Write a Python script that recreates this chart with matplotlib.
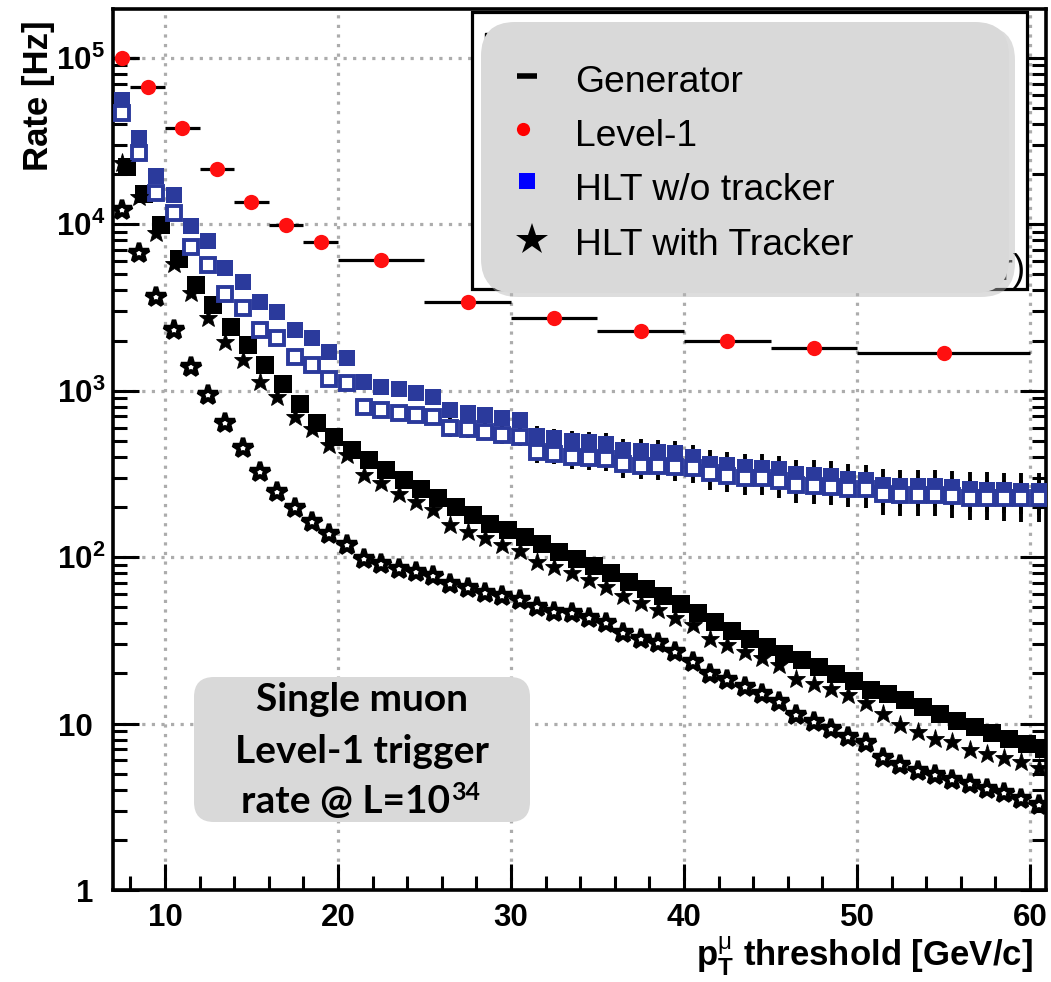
import numpy as np
import matplotlib
matplotlib.use("Agg")
import matplotlib.pyplot as plt
import matplotlib.transforms as mtransforms
from matplotlib import font_manager
from matplotlib.patches import FancyBboxPatch, Rectangle
from matplotlib.lines import Line2D
from matplotlib.ticker import FixedLocator, LogLocator, NullFormatter, MultipleLocator

plt.rcParams['font.family'] = ['Liberation Sans', 'DejaVu Sans']
plt.rcParams['mathtext.fontset'] = 'custom'
plt.rcParams['mathtext.rm'] = 'Liberation Sans'
plt.rcParams['mathtext.bf'] = 'Liberation Sans:bold'
plt.rcParams['mathtext.it'] = 'Liberation Sans:italic'
plt.rcParams['mathtext.sf'] = 'Liberation Sans'

# ---------------- data ----------------
pt_bins = np.arange(7.5, 61.0, 1.0)   # pT threshold bins (GeV/c), 54 bins

generator = [22000, 15200, 9900, 6220, 4300, 3270, 2400, 1880, 1430, 1090,
             830, 635, 524, 438, 382, 333, 290, 256, 225, 200,
             179, 159, 145, 132, 120, 107, 98, 88, 80, 71,
             64, 58, 52, 46, 41, 36, 32, 29, 26, 24,
             21.9, 19.9, 18.0, 16.0, 15.0, 13.8, 12.6, 11.4, 10.4, 9.5,
             8.8, 8.1, 7.5, 7.0]

hlt_notrk_filled = [55700, 32800, 19500, 14960, 9750, 7910, 5470, 4510, 3420, 2980,
                    2310, 2060, 1710, 1580, 1130, 1050, 1017, 970, 918, 764,
                    730, 713, 685, 665, 537, 516, 498, 493, 481, 439,
                    435, 429, 423, 400, 365, 356, 348, 345, 336, 315,
                    312, 308, 294, 290, 272, 268, 268, 266, 262, 256,
                    254, 252, 251, 250]

hlt_notrk_open = [46800, 26900, 15400, 11600, 7260, 5680, 3800, 3150, 2330, 2060,
                  1595, 1420, 1183, 1105, 800, 764, 736, 713, 690, 593,
                  585, 565, 545, 530, 426, 419, 400, 395, 386, 362,
                  355, 351, 348, 341, 318, 306, 297, 297, 285, 270,
                  267, 264, 258, 255, 239, 236, 236, 235, 232, 228,
                  228, 227, 226, 225]

hlt_notrk_relerr = [0.03, 0.03, 0.03, 0.03, 0.03, 0.04, 0.04, 0.04, 0.05, 0.05,
                    0.05, 0.05, 0.06, 0.06, 0.08, 0.08, 0.08, 0.09, 0.09, 0.11,
                    0.11, 0.11, 0.12, 0.12, 0.14, 0.14, 0.15, 0.15, 0.15, 0.17,
                    0.17, 0.17, 0.18, 0.18, 0.20, 0.20, 0.20, 0.21, 0.21, 0.22,
                    0.22, 0.22, 0.23, 0.23, 0.25, 0.25, 0.25, 0.25, 0.26, 0.27,
                    0.27, 0.27, 0.28, 0.28]

hlt_trk_filled = [23300, 14600, 8800, 5800, 3840, 2720, 1960, 1520, 1130, 918,
                  697, 585, 470, 409, 311, 277, 241, 215, 191, 156,
                  142, 131, 118, 109, 94, 87, 80, 73, 66, 58,
                  53, 48, 43, 39, 32.4, 29.6, 26.9, 24.6, 22.4, 18.6,
                  17.4, 16.2, 14.8, 13.3, 11.4, 9.8, 8.9, 8.1, 7.8, 6.9,
                  6.6, 6.2, 5.9, 5.4]

hlt_trk_open = [12200, 6680, 3660, 2310, 1390, 940, 636, 450, 325, 247,
                196, 163, 137, 118, 98, 91, 85, 81.5, 77, 69,
                65, 61, 58, 55, 50, 47, 46, 43, 40, 35,
                32.4, 30.3, 26.9, 23.4, 19.9, 18.2, 16.6, 15.1, 13.4, 11.2,
                10.2, 9.3, 8.3, 7.6, 6.2, 5.6, 5.2, 4.9, 4.6, 4.36,
                4.07, 3.8, 3.54, 3.23]

l1_pt = [7.5, 9, 11, 13, 15, 17, 19, 22.5, 27.5, 32.5, 37.5, 42.5, 47.5, 55]
l1_halfwidth = [1, 1, 1, 1, 1, 1, 1, 2.5, 2.5, 2.5, 2.5, 2.5, 2.5, 5]
l1_rate = [100000, 66400, 37900, 21600, 13600, 9900, 7780, 6080, 3420, 2720,
           2280, 1990, 1806, 1690]

x_ticks = [10, 20, 30, 40, 50, 60]
y_ticks = [1, 10, 1e2, 1e3, 1e4, 1e5]
y_ticklabels = ['1', '10', r'$\mathbf{10^{2}}$', r'$\mathbf{10^{3}}$',
                r'$\mathbf{10^{4}}$', r'$\mathbf{10^{5}}$']

legend_labels = ['Generator', 'Level-1', 'HLT w/o tracker', 'HLT with Tracker']
box_lines = ['Single muon', 'Level-1 trigger', 'rate @ L=10']
box_sup = '34'

# ---------------- figure ----------------
W, H, DPI = 1051, 982, 100
fig = plt.figure(figsize=(W / DPI, H / DPI), dpi=DPI)
ax = fig.add_axes([113 / W, 1 - 890 / H, (1046 - 113) / W, (890 - 8.5) / H])

BLUE = '#2b3a9c'
ax.set_yscale('log')
ax.set_xlim(7, 60.92)
ax.set_ylim(1, 10 ** 5.296)

# L1 horizontal bin bars and dots
ax.errorbar(l1_pt, l1_rate, xerr=l1_halfwidth, fmt='none', ecolor='black',
            elinewidth=2.3, capsize=0, zorder=2)
# generator
ax.plot(pt_bins + 0.3, generator, ls='none', marker='s', ms=12.6, mfc='black',
        mec='black', mew=0, zorder=3)
# HLT w/o tracker: error bars, filled and open squares
ax.errorbar(pt_bins, hlt_notrk_filled,
            yerr=np.array(hlt_notrk_filled) * np.array(hlt_notrk_relerr),
            fmt='none', ecolor='black', elinewidth=2.8, capsize=0, zorder=3.1)
ax.errorbar(pt_bins, hlt_notrk_open,
            yerr=np.array(hlt_notrk_open) * np.array(hlt_notrk_relerr),
            fmt='none', ecolor='black', elinewidth=2.8, capsize=0, zorder=3.1)
ax.plot(pt_bins, hlt_notrk_filled, ls='none', marker='s', ms=11.8, mfc=BLUE,
        mec=BLUE, mew=0, zorder=3.2)
ax.plot(pt_bins, hlt_notrk_open, ls='none', marker='s', ms=10.6, mfc='white',
        mec=BLUE, mew=2.8, zorder=3.4)
# HLT with tracker
ax.plot(pt_bins, hlt_trk_filled, ls='none', marker='*', ms=14, mfc='black',
        mec='black', mew=0.6, zorder=3.8)
ax.plot(pt_bins, hlt_trk_open, ls='none', marker='*', ms=14.5, mfc='white',
        mec='black', mew=3.2, zorder=4)
# L1 dots
ax.plot(l1_pt, l1_rate, ls='none', marker='o', ms=11, mfc='#ff1010',
        mec='#ff1010', mew=0, zorder=4.2)

# grid / ticks
ax.set_axisbelow(True)
ax.xaxis.set_major_locator(FixedLocator(x_ticks))
ax.xaxis.set_minor_locator(MultipleLocator(2))
ax.yaxis.set_major_locator(FixedLocator(y_ticks))
ax.yaxis.set_minor_locator(LogLocator(base=10, subs=np.arange(2, 10), numticks=30))
ax.yaxis.set_minor_formatter(NullFormatter())
ax.grid(True, which='major', color='#acacac', linestyle=(0, (1.0, 2.0)), linewidth=2.3)
ax.tick_params(which='major', direction='in', length=19, width=2.2,
               right=True, top=False, labelleft=False, labelsize=22.5, pad=9)
ax.tick_params(which='minor', direction='in', length=10, width=2.2,
               right=True, top=False)
ax.set_xticklabels([str(v) for v in x_ticks], fontsize=22.5, fontweight='bold')
for s in ax.spines.values():
    s.set_linewidth(2.6)

# y tick labels (manual so the exponent labels align like the original)
ytrans = mtransforms.blended_transform_factory(fig.transFigure, ax.transData)
for v, lab in zip(y_ticks, y_ticklabels):
    xr = 105 / W if '^' in lab else 93 / W
    tr = mtransforms.offset_copy(ytrans, fig=fig, x=0, y=-12, units='dots')
    fig.text(xr, v, lab, transform=tr, ha='right', va='baseline',
             fontsize=22.5, fontweight='bold')

# axis titles
fig.text(38.5 / W, 1 - 20 / H, 'Rate [Hz]', rotation=90, ha='center', va='top',
         fontsize=25, fontweight='bold')
fig.text(1033 / W, 1 - 966 / H,
         r'$\mathbf{p}_{\mathbf{T}}^{\mathrm{\mu}}$ threshold [GeV/c]',
         ha='right', va='baseline', fontsize=25, fontweight='bold')

# ---------------- legend (pixel coordinates) ----------------
T = mtransforms.IdentityTransform()
def P(x, y):
    return (x, H - y)

try:
    font_manager.findfont(font_manager.FontProperties(family='Liberation Sans Narrow'),
                          fallback_to_default=False)
    NARROW, LEGSIZE = ['Liberation Sans Narrow', 'DejaVu Sans'], 31
except Exception:
    NARROW, LEGSIZE = ['Liberation Sans', 'DejaVu Sans'], 26.8

frame = Rectangle(P(472, 289), 1027 - 472, 289 - 12, transform=T, fc='white',
                  ec='black', lw=2.3, zorder=5)
fig.add_artist(frame)
fig.add_artist(Line2D([491], [H - 39], marker='s', ms=8, mfc='black', mec='black',
                      transform=T, zorder=5.2))
fig.text(1025, H - 280, 'tracker)', transform=T, ha='right', va='baseline',
         fontsize=LEGSIZE, family=NARROW, zorder=5.2)
shadow = FancyBboxPatch(P(484, 297), 1012 - 481, 293 - 22,
                        boxstyle='round,pad=0,rounding_size=34', transform=T,
                        fc='#b5b5b5', ec='none', alpha=0.45, zorder=5.4)
fig.add_artist(shadow)
gbox = FancyBboxPatch(P(481, 293), 1009 - 481, 293 - 22,
                      boxstyle='round,pad=0,rounding_size=34', transform=T,
                      fc='#d9d9d9', ec='none', zorder=5.5)
fig.add_artist(gbox)

leg_baselines = [92, 146, 200, 255]
leg_centers = [76, 129, 181, 240]
for lab, yb in zip(legend_labels, leg_baselines):
    fig.text(575, H - yb, lab, transform=T, ha='left', va='baseline',
             fontsize=LEGSIZE, family=NARROW, zorder=6)
fig.add_artist(Line2D([527], [H - leg_centers[0]], marker='_', ms=15, mew=4,
                      color='black', transform=T, zorder=6))
fig.add_artist(Line2D([523], [H - leg_centers[1]], marker='o', ms=9.5, mew=0,
                      mfc='#ff0000', transform=T, zorder=6))
fig.add_artist(Line2D([527], [H - leg_centers[2]], marker='s', ms=11.5, mew=0,
                      mfc='#0000ff', transform=T, zorder=6))
fig.add_artist(Line2D([532], [H - leg_centers[3]], marker='*', ms=24, mew=0,
                      mfc='black', transform=T, zorder=6))

# ---------------- text box ----------------
tbox = FancyBboxPatch(P(194, 822), 530 - 194, 822 - 677,
                      boxstyle='round,pad=0,rounding_size=20', transform=T,
                      fc='#d9d9d9', ec='none', zorder=5.5)
fig.add_artist(tbox)
BOXFONT = ['Lato', 'DejaVu Sans']
fig.text(362, H - 711, box_lines[0], transform=T, ha='center', va='baseline',
         fontsize=28, fontweight='bold', family=BOXFONT, zorder=6)
fig.text(362, H - 763, box_lines[1], transform=T, ha='center', va='baseline',
         fontsize=28, fontweight='bold', family=BOXFONT, zorder=6)
t3 = fig.text(346, H - 813, box_lines[2], transform=T, ha='center', va='baseline',
              fontsize=28, fontweight='bold', family=BOXFONT, zorder=6)
fig.canvas.draw()
bb = t3.get_window_extent()
fig.text(bb.x1 + 1, H - 800, box_sup, transform=T, ha='left', va='baseline',
         fontsize=18, fontweight='bold', family=BOXFONT, zorder=6)

fig.savefig('out.png', dpi=DPI)
